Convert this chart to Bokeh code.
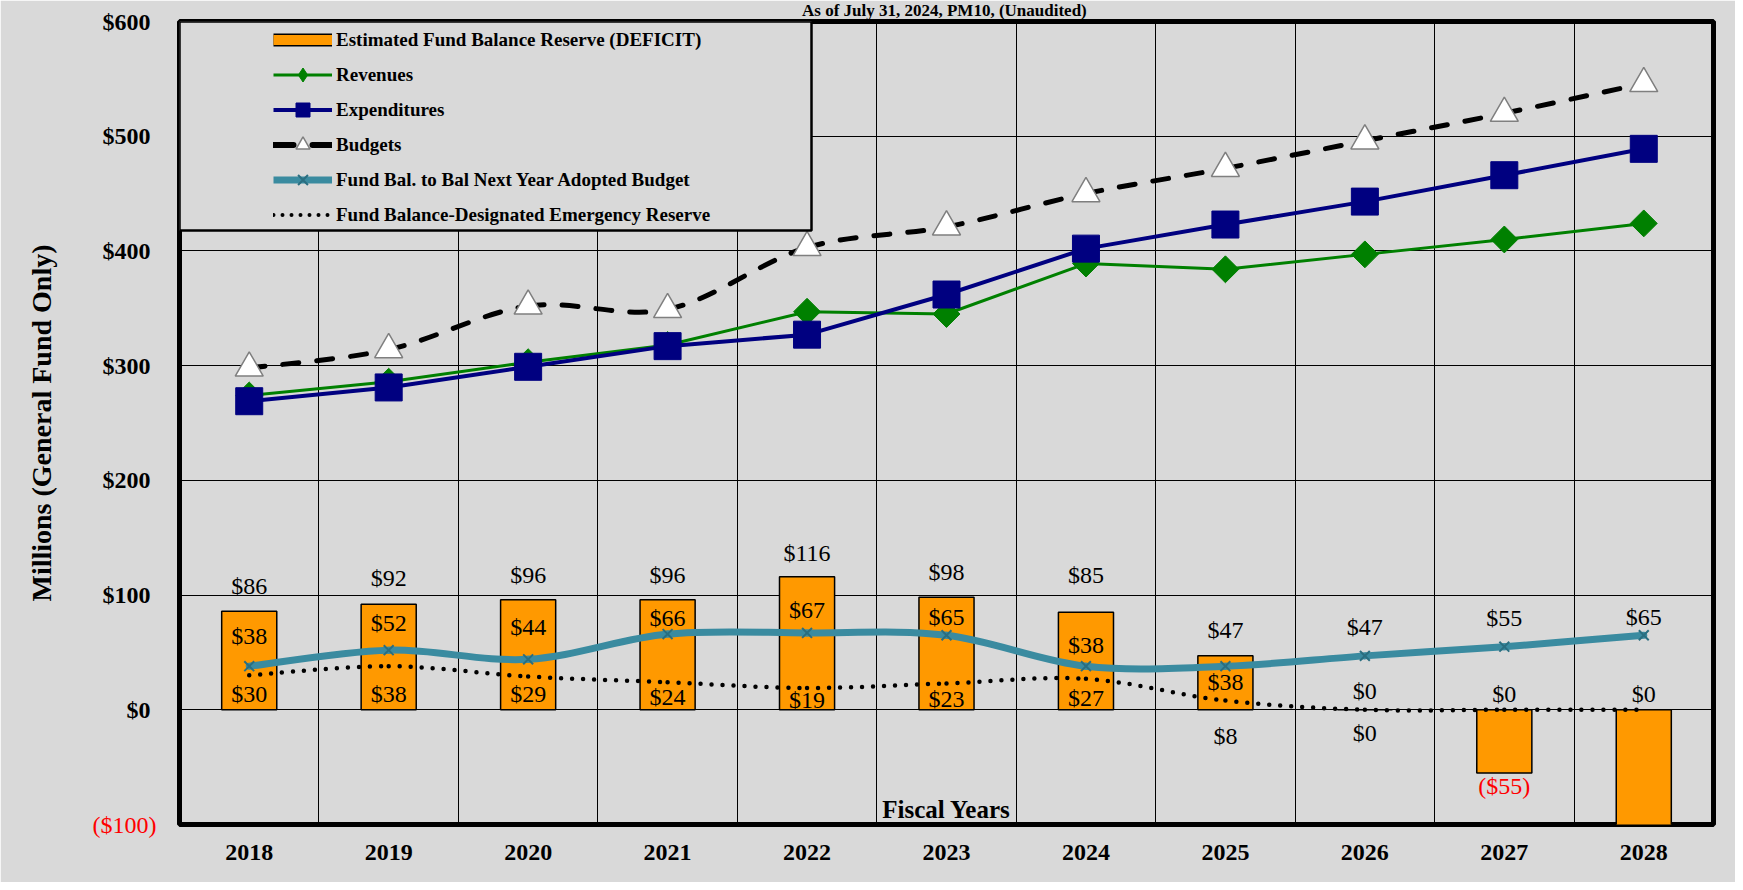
import math
from bokeh.plotting import figure
from bokeh.models import (Range1d, FixedTicker, Label, BoxAnnotation, Legend,
                          LegendItem, ColumnDataSource, LinearAxis)
from bokeh.core.properties import value, field
from bokeh.embed import file_html
from bokeh.resources import INLINE

# ---------------- data ----------------
years = ["2018", "2019", "2020", "2021", "2022", "2023", "2024", "2025", "2026", "2027", "2028"]
fund_balance = [86, 92, 96, 96, 116, 98, 85, 47, 0, -55, -120]
revenues = [274, 286, 303, 318, 347, 345, 389, 384, 397, 410, 424]
expenditures = [269, 281, 299, 317, 327, 362, 402, 423, 443, 466, 489]
budgets = [298, 314, 352, 349, 403, 421, 450, 472, 496, 520, 546]
fund_bal_next_year = [38, 52, 44, 66, 67, 65, 38, 38, 47, 55, 65]
emergency_reserve = [30, 38, 29, 24, 19, 23, 27, 8, 0, 0, 0]
y_ticks = [-100, 0, 100, 200, 300, 400, 500, 600]

# label vertical offsets in pixels (positive = downwards)
fund_label_dy = [-25, -26, -25, -25, -24, -25, -37, -26, -19, 13, 13]
next_label_dy = [-30, -27, -32, -16, -23, -18, -21, 16, -29, -29, -18]
reserve_label_dy = [19, 28, 17, 15, 12, 16, 19, 35, 23, -16, -16]

Y_MIN, Y_MAX = -100, 600
SERIF = "Liberation Serif"
BG = "#D9D9D9"
ORANGE = "#FF9900"
GREEN = "#008000"
NAVY = "#000080"
TEAL = "#3A8BA0"
TEAL_DARK = "#2A6E80"


def money(v):
    return f"${v}" if v >= 0 else f"(${-v})"


idx = list(range(len(years)))

p = figure(width=1735, height=882,
           x_range=Range1d(-0.5, len(years) - 0.5), y_range=Range1d(Y_MIN, Y_MAX),
           output_backend="svg", toolbar_location=None,
           min_border_left=179, min_border_right=22, min_border_top=20, min_border_bottom=58)
p.background_fill_color = BG
p.border_fill_color = BG
p.outline_line_color = "black"
p.outline_line_width = 5

# title (the reference shows it cut at the top edge; kept small so it stays readable)
p.title.text = "As of July 31, 2024, PM10,  (Unaudited)"
p.title.align = "center"
p.title.vertical_align = "top"
p.title.offset = -69
p.title.standoff = 0
p.title.text_font = SERIF
p.title.text_font_style = "bold"
p.title.text_font_size = "17px"
p.title.text_color = "black"

# grid
p.xgrid.ticker = FixedTicker(ticks=[i + 0.5 for i in idx[:-1]])
p.ygrid.ticker = FixedTicker(ticks=y_ticks)
p.xgrid.grid_line_color = "black"
p.ygrid.grid_line_color = "black"
p.xgrid.grid_line_width = 1
p.ygrid.grid_line_width = 1
p.xgrid.grid_line_alpha = 1.0
p.ygrid.grid_line_alpha = 1.0


def style_axis(ax, size="24px", bold=True, color="black"):
    ax.axis_line_color = None
    ax.major_tick_line_color = None
    ax.minor_tick_line_color = None
    ax.major_tick_out = 0
    ax.major_tick_in = 0
    ax.minor_tick_out = 0
    ax.minor_tick_in = 0
    ax.major_label_text_font = SERIF
    ax.major_label_text_font_style = "bold" if bold else "normal"
    ax.major_label_text_font_size = size
    ax.major_label_text_color = color


# axes
p.xaxis.ticker = FixedTicker(ticks=idx)
p.xaxis.major_label_overrides = {i: y for i, y in zip(idx, years)}
style_axis(p.xaxis[0])
p.xaxis.major_label_standoff = 20

pos_ticks = [t for t in y_ticks if t >= 0]
p.yaxis.ticker = FixedTicker(ticks=pos_ticks)
p.yaxis.major_label_overrides = {t: money(t) for t in pos_ticks}
style_axis(p.yaxis[0])
p.yaxis.major_label_standoff = 29

# negative tick label in red: an outer axis whose labels are pulled back next to the frame
neg_ticks = [t for t in y_ticks if t < 0]
neg_axis = LinearAxis(ticker=FixedTicker(ticks=neg_ticks),
                      major_label_overrides={t: money(t) for t in neg_ticks})
style_axis(neg_axis, bold=False, color="#FF0000")
neg_axis.major_label_standoff = -57
neg_axis.axis_label = "Millions (General Fund Only)"
neg_axis.axis_label_text_font = SERIF
neg_axis.axis_label_text_font_style = "bold"
neg_axis.axis_label_text_font_size = "28px"
neg_axis.axis_label_text_color = "black"
neg_axis.axis_label_standoff = 33
p.add_layout(neg_axis, "left")


def bezier_source(xs, ys, t=1 / 6):
    n = len(xs)
    out = {k: [] for k in ("x0", "y0", "x1", "y1", "cx0", "cy0", "cx1", "cy1")}
    for i in range(n - 1):
        i0 = max(i - 1, 0)
        i3 = min(i + 2, n - 1)
        out["x0"].append(xs[i]); out["y0"].append(ys[i])
        out["x1"].append(xs[i + 1]); out["y1"].append(ys[i + 1])
        out["cx0"].append(xs[i] + (xs[i + 1] - xs[i0]) * t)
        out["cy0"].append(ys[i] + (ys[i + 1] - ys[i0]) * t)
        out["cx1"].append(xs[i + 1] - (xs[i3] - xs[i]) * t)
        out["cy1"].append(ys[i + 1] - (ys[i3] - ys[i]) * t)
    return ColumnDataSource(out)


BZ = dict(x0="x0", y0="y0", x1="x1", y1="y1", cx0="cx0", cy0="cy0", cx1="cx1", cy1="cy1")

# bars
p.vbar(x=idx, top=fund_balance, bottom=0, width=0.395,
       fill_color=ORANGE, line_color="black", line_width=1.5)

# emergency reserve (smoothed dotted)
p.bezier(source=bezier_source(idx, emergency_reserve), **BZ,
         line_color="black", line_width=4.5, line_dash="0 11", line_cap="round")

# fund bal to bal next year (smoothed teal)
p.bezier(source=bezier_source(idx, fund_bal_next_year), **BZ,
         line_color=TEAL, line_width=7, line_cap="round")
teal_x = p.scatter(idx, fund_bal_next_year, marker="x", size=14,
                   line_color=TEAL_DARK, line_width=2)

# revenues
rev_line = p.line(idx, revenues, line_color=GREEN, line_width=3)
p.scatter(idx, revenues, marker="square", angle=math.pi / 4, size=19,
          fill_color=GREEN, line_color=GREEN)

# expenditures
exp_line = p.line(idx, expenditures, line_color=NAVY, line_width=4)
exp_mk = p.scatter(idx, expenditures, marker="square", size=27,
                   fill_color=NAVY, line_color=NAVY)

# budgets (smoothed dashed)
p.bezier(source=bezier_source(idx, budgets), **BZ,
         line_color="black", line_width=5, line_dash="16 18", line_cap="round")
bud_mk = p.scatter(idx, budgets, marker="triangle", size=28,
                   fill_color="white", line_color="#7F7F7F", line_width=1.5)


# data labels
def label_source(vals, dys):
    d = dict(x=[], y=[], t=[], c=[], dy=[])
    for i, (v, dy) in enumerate(zip(vals, dys)):
        if v < Y_MIN or v > Y_MAX:
            continue
        d["x"].append(idx[i]); d["y"].append(v); d["t"].append(money(v))
        d["c"].append("#FF0000" if v < 0 else "black"); d["dy"].append(dy)
    return ColumnDataSource(d)


for vals, dys in ((fund_balance, fund_label_dy),
                  (fund_bal_next_year, next_label_dy),
                  (emergency_reserve, reserve_label_dy)):
    p.text(x="x", y="y", text="t", source=label_source(vals, dys),
           text_color=field("c"), text_font=value(SERIF), text_font_size="24px",
           text_align="center", text_baseline="middle", y_offset="dy")

# "Fiscal Years"
mid = (len(years) - 1) / 2
p.add_layout(Label(x=mid, y=Y_MIN, y_offset=15, text="Fiscal Years", text_align="center",
                   text_baseline="middle", text_font=SERIF, text_font_style="bold",
                   text_font_size="25px", text_color="black"))

# legend box
p.add_layout(BoxAnnotation(left=None, top=None, right=632, bottom=594,
                           right_units="screen", bottom_units="screen",
                           fill_color=BG, fill_alpha=1.0, line_color="black",
                           line_width=2.5, line_alpha=1.0))

# legend-only renderers (data placed outside the visible x range)
off_x = [-3, -2]
off_y = [0, 0]
lg_bar_b = p.line(off_x, off_y, line_color="black", line_width=13)
lg_bar_f = p.line(off_x, off_y, line_color=ORANGE, line_width=10)
lg_rev = p.scatter(off_x, off_y, marker="diamond", size=14, fill_color=GREEN, line_color=GREEN)
lg_bud = p.line(off_x, off_y, line_color="black", line_width=6, line_dash="20 19", line_cap="round")
lg_teal = p.line(off_x, off_y, line_color=TEAL, line_width=7)
lg_dot = p.line(off_x, off_y, line_color="black", line_width=4, line_dash="0 9", line_cap="round")

legend = Legend(items=[
    LegendItem(label="Estimated Fund Balance Reserve (DEFICIT)", renderers=[lg_bar_b, lg_bar_f]),
    LegendItem(label="Revenues", renderers=[rev_line, lg_rev]),
    LegendItem(label="Expenditures", renderers=[exp_line, exp_mk]),
    LegendItem(label="Budgets", renderers=[lg_bud, bud_mk]),
    LegendItem(label="Fund Bal. to Bal Next Year Adopted Budget", renderers=[lg_teal, teal_x]),
    LegendItem(label="Fund Balance-Designated Emergency Reserve", renderers=[lg_dot]),
], location=(94, 592), orientation="vertical")
legend.padding = 0
legend.margin = 0
legend.spacing = 0
legend.glyph_width = 59
legend.glyph_height = 35
legend.label_height = 35
legend.label_standoff = 4
legend.border_line_color = None
legend.background_fill_alpha = 0
legend.label_text_font = SERIF
legend.label_text_font_style = "bold"
legend.label_text_font_size = "19px"
legend.label_text_color = "black"
p.add_layout(legend)

open("out.html", "w").write(file_html(p, INLINE))
